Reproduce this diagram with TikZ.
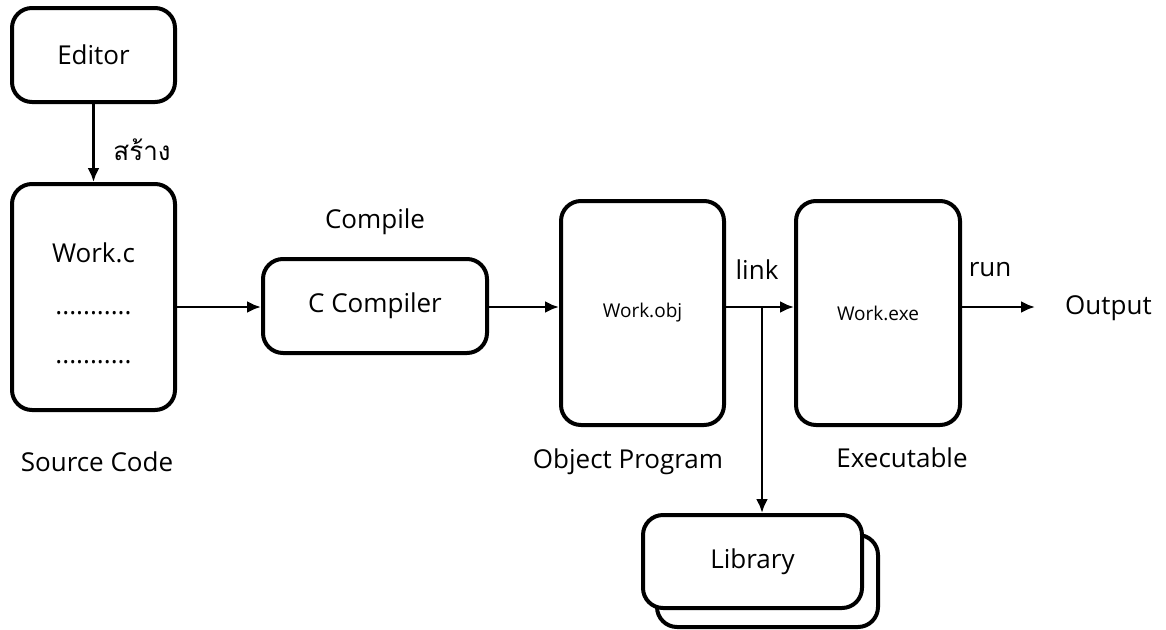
\documentclass[tikz,border=0pt]{standalone}
\usepackage{fontspec}
\setmainfont{Open Sans}
\newfontfamily\thaifont[Script=Thai]{Loma}
\usetikzlibrary{arrows.meta}

\begin{document}
\begin{tikzpicture}[x=1pt, y=-1pt,
    >={Latex[length=14pt,width=12pt]},
    blk/.style={draw, line width=4pt, rounded corners=20pt, fill=white,
                inner sep=0pt, font=\fontsize{26}{30}\selectfont},
    lbl/.style={font=\fontsize{26}{30}\selectfont, inner sep=0pt},
    flow/.style={->, line width=2.8pt}]

    \useasboundingbox (0,0) rectangle (1166,629);

    % Main line of the chain
    \coordinate (mid) at (0,307);

    % Boxes
    \node[blk, minimum width=163pt, minimum height=94pt] (ed) at (93.5,55) {Editor};
    \node[blk, minimum width=163pt, minimum height=226pt] (src) at (93.5,297) {};
    \node[lbl, align=center] (srctext) at (93.5,303.5)
        {Work.c\\[22pt]...........\\[19pt]...........};
    \node[blk, minimum width=224pt, minimum height=94pt] (cc) at (375,306) {C Compiler};
    \node[blk, minimum width=163pt, minimum height=224pt, font=\fontsize{19}{22}\selectfont] (obj) at (642.5,313) {Work.obj};
    \node[blk, minimum width=164pt, minimum height=224pt, font=\fontsize{19}{22}\selectfont] (exe) at (878,313) {Work.exe};

    % Library, two stacked sheets
    \node[blk, minimum width=221pt, minimum height=92pt] (libback) at (767.5,581) {};
    \node[blk, minimum width=219pt, minimum height=93pt] (lib) at (752.5,561.5) {Library};

    % Labels
    \node[lbl] (create) at (142,150) {\thaifont สร้าง};
    \node[lbl] (compile) at (375,222) {Compile};
    \node[lbl] (link) at (757,270) {link};
    \node[lbl] (run) at (990,270) {run};
    \node[lbl, anchor=west] (out) at (1065,308) {Output};
    \node[lbl] (srclbl) at (97,462) {Source Code};
    \node[lbl] (objlbl) at (628,462) {Object Program};
    \node[lbl] (exelbl) at (902,458) {Executable};

    % Connectors
    \draw[flow] (ed) -- (src);
    \draw[flow] (src.east |- mid) -- (cc.west |- mid);
    \draw[flow] (cc.east |- mid) -- (obj.west |- mid);
    \draw[flow] (obj.east |- mid) -- (exe.west |- mid);
    \coordinate (br) at (762,307);
    \draw[flow] (br) -- (br |- lib.north);
    \draw[flow, shorten >=30pt] (exe.east |- mid) -- (out.west |- mid);

\end{tikzpicture}
\end{document}
